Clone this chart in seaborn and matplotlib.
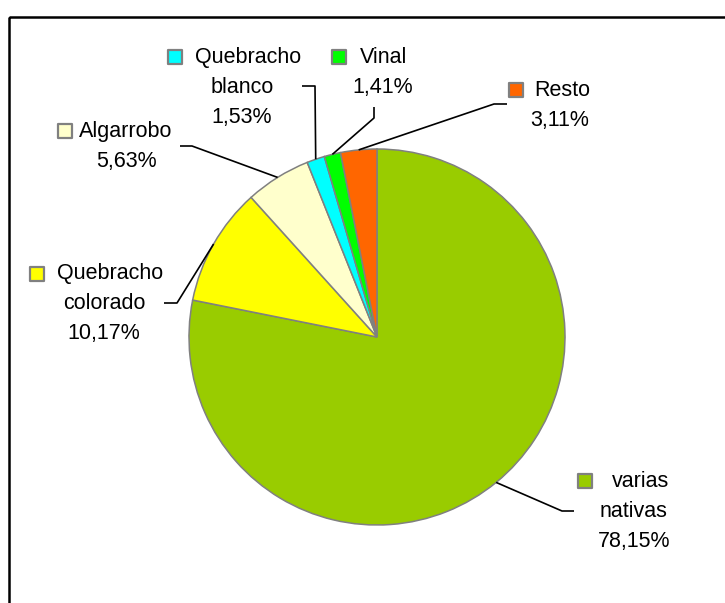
import numpy as np
import matplotlib
matplotlib.use('Agg')
import matplotlib.pyplot as plt
import seaborn as sns
from matplotlib.patches import Rectangle

# datos (porcentaje por especie), en el orden del gráfico (sentido horario desde arriba)
especies = ['varias nativas', 'Quebracho colorado', 'Algarrobo', 'Quebracho blanco', 'Vinal', 'Resto']
valores = [78.15, 10.17, 5.63, 1.53, 1.41, 3.11]
colores = ['#99CC00', '#FFFF00', '#FFFFCC', '#00FFFF', '#00FF00', '#FF6600']

# líneas de cada etiqueta (la primera lleva el cuadradito de color)
lineas = [['varias', 'nativas'], ['Quebracho', 'colorado'], ['Algarrobo'],
          ['Quebracho', 'blanco'], ['Vinal'], ['Resto']]

sns.set_theme(style='white')
plt.rcParams['font.family'] = ['Liberation Sans', 'DejaVu Sans']

W, H = 725, 603
fig = plt.figure(figsize=(W / 100, H / 100), dpi=100)
ax = fig.add_axes([0, 0, 1, 1])

cx, cy, r = 377, 337, 188
ax.pie(valores, colors=colores, startangle=-90, counterclock=True,
       center=(cx, cy), radius=r,
       wedgeprops=dict(edgecolor='#808080', linewidth=1.1))
ax.set_xlim(0, W)
ax.set_ylim(H, 0)
ax.set_aspect('equal')
ax.axis('off')

# posiciones de las etiquetas (px): cuadradito, centro de cada línea, línea base, codo y fin de la guía
layout = {
    'varias nativas':     dict(sq=(585, 481), xs=[641, 634, 634], y0=487, elbow=(562, 511), end=(574, 511)),
    'Quebracho colorado': dict(sq=(37, 274), xs=[110, 104, 104], y0=279, elbow=(177, 303), end=(164, 303)),
    'Algarrobo':          dict(sq=(65, 131), xs=[126, 126], y0=137, elbow=(192, 146), end=(180, 146)),
    'Quebracho blanco':   dict(sq=(175, 57), xs=[248, 242, 242], y0=63, elbow=(315, 86), end=(302, 86)),
    'Vinal':              dict(sq=(339, 57), xs=[384, 383], y0=63, elbow=(374, 118), end=(374, 107)),
    'Resto':              dict(sq=(516, 90), xs=[562, 560], y0=96, elbow=(494, 104), end=(507, 104)),
}

fs = 15.5
acum = 0
for nombre, v, col, lin in zip(especies, valores, colores, lineas):
    mid = np.deg2rad(-90 + 360 * (acum + v / 2) / 100)
    acum += v
    px_edge = (cx + r * np.cos(mid), cy + r * np.sin(mid))
    L = layout[nombre]
    # guía
    ax.plot([px_edge[0], L['elbow'][0], L['end'][0]],
            [px_edge[1], L['elbow'][1], L['end'][1]],
            color='black', lw=1.2, solid_capstyle='butt')
    # cuadradito de leyenda
    ax.scatter([L['sq'][0]], [L['sq'][1]], marker='s', s=100, color=col,
               edgecolor='#808080', linewidth=1.6, zorder=5)
    textos = lin + [f'{v:.2f}%'.replace('.', ',')]
    for i, t in enumerate(textos):
        ax.text(L['xs'][i], L['y0'] + 30 * i, t, ha='center', va='baseline',
                fontsize=fs, color='black')

# marco del gráfico
ax.add_patch(Rectangle((9, 17), W, H, fill=False, edgecolor='black', lw=1.8))

fig.savefig('out.png', dpi=100)
